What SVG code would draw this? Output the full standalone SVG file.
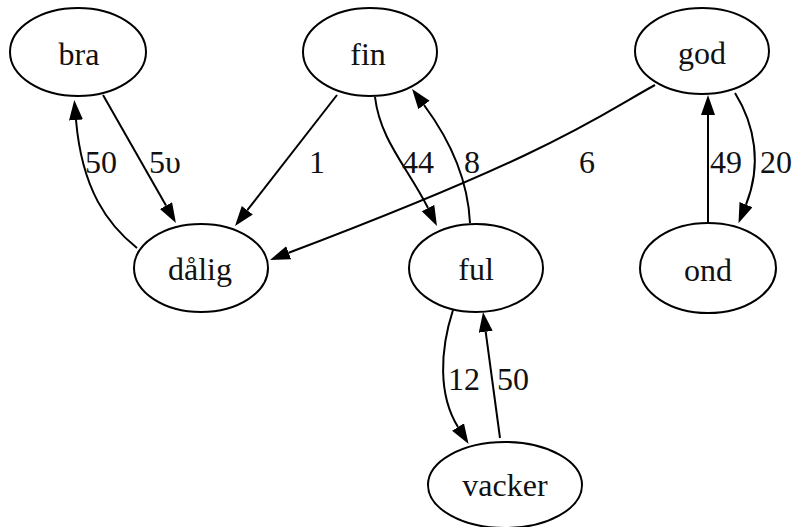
<svg xmlns="http://www.w3.org/2000/svg" width="795" height="527" viewBox="0 0 795 527">
<style>
.node ellipse{fill:none;stroke:#000;stroke-width:2}
.node text{font-family:"Liberation Serif","Times New Roman",serif;font-size:32px;text-anchor:middle;fill:#111}
.edge path{fill:none;stroke:#000;stroke-width:2}
.lbl{font-family:"Liberation Serif","Times New Roman",serif;font-size:32px;text-anchor:middle;fill:#111}
</style>
<defs>
<marker id="ah" markerUnits="userSpaceOnUse" markerWidth="22" markerHeight="16" refX="0" refY="7" orient="auto">
<polygon points="0,0 20,7 0,14" fill="#000"/>
</marker>
</defs>
<rect width="795" height="527" fill="#fff"/>
<g id="edges">
<g class="edge" id="bra-dalig"><path d="M103,95 L166,205.6" marker-end="url(#ah)"/><text class="lbl" x="165" y="173">5υ</text></g>
<g class="edge" id="dalig-bra"><path d="M137,248 C108,225 82,190 76,120" marker-end="url(#ah)"/><text class="lbl" x="101" y="173">50</text></g>
<g class="edge" id="fin-dalig"><path d="M337,95 L247.3,210.2" marker-end="url(#ah)"/><text class="lbl" x="317" y="173">1</text></g>
<g class="edge" id="fin-ful"><path d="M375,97 C380,140 408,168 428,208" marker-end="url(#ah)"/><text class="lbl" x="418" y="173">44</text></g>
<g class="edge" id="ful-fin"><path d="M470,223 C468,180 450,140 424,105" marker-end="url(#ah)"/><text class="lbl" x="472" y="173">8</text></g>
<g class="edge" id="god-dalig"><path d="M655,85 C600,115 560,150 288.7,252.8" marker-end="url(#ah)"/><text class="lbl" x="587" y="173">6</text></g>
<g class="edge" id="ond-god"><path d="M708,223 L708,115" marker-end="url(#ah)"/><text class="lbl" x="726" y="173">49</text></g>
<g class="edge" id="god-ond"><path d="M735,93 C755,125 762,165 746,204.6" marker-end="url(#ah)"/><text class="lbl" x="776" y="173">20</text></g>
<g class="edge" id="ful-vacker"><path d="M453,310 C440,350 438,395 458,427" marker-end="url(#ah)"/><text class="lbl" x="464" y="390">12</text></g>
<g class="edge" id="vacker-ful"><path d="M500,438 L485.7,331.8" marker-end="url(#ah)"/><text class="lbl" x="513" y="390">50</text></g>
</g>
<g class="node" id="bra"><ellipse cx="78" cy="52" rx="68" ry="44"/><text x="79" y="65">bra</text></g>
<g class="node" id="fin"><ellipse cx="370" cy="52" rx="67" ry="44"/><text x="368" y="65">fin</text></g>
<g class="node" id="god"><ellipse cx="702" cy="51" rx="67" ry="43"/><text x="702" y="64">god</text></g>
<g class="node" id="dalig"><ellipse cx="201" cy="268" rx="67" ry="44"/><text x="200" y="280">dålig</text></g>
<g class="node" id="ful"><ellipse cx="476" cy="268" rx="67" ry="44"/><text x="476" y="280">ful</text></g>
<g class="node" id="ond"><ellipse cx="708" cy="268" rx="68" ry="45"/><text x="708" y="281">ond</text></g>
<g class="node" id="vacker"><ellipse cx="505" cy="485" rx="77" ry="43"/><text x="505" y="496">vacker</text></g>
</svg>
